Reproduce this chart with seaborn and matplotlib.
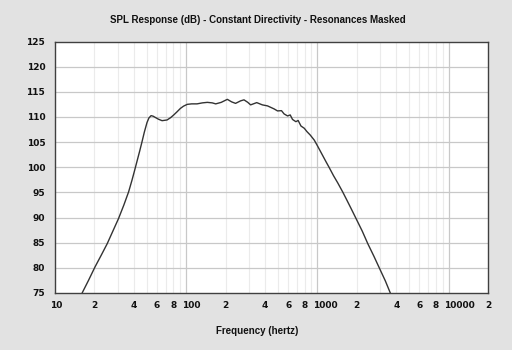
import matplotlib
matplotlib.use("Agg")
import matplotlib.pyplot as plt
import matplotlib.transforms as mtransforms
import seaborn as sns
import pandas as pd

freq_hz = [16.1, 18.0, 20.2, 22.5, 25.0, 27.5, 30.5, 33.5, 36.4, 38.6, 40.2, 42.2, 44.2, 46.0,
           48.0, 50.3, 52.0, 54.0, 56.0, 58.2, 61.5, 65.5, 71.5, 76.0, 80.4, 85.0, 90.4,
           95.5, 101.8, 110, 121, 133, 145, 158, 168, 185, 206, 222, 238, 260, 276, 295,
           310, 345, 381, 417, 468, 497, 533, 558, 593, 621, 647, 686, 714, 750, 795, 832,
           883, 947, 1005, 1079, 1164, 1234, 1330, 1430, 1560, 1654, 1800, 1973, 2200,
           2425, 2700, 2978, 3300, 3600]
spl_db = [75.0, 77.5, 80.2, 82.5, 84.8, 87.2, 89.8, 92.5, 95.1, 97.4, 99.1, 101.2, 103.2,
          105.0, 107.0, 108.9, 109.8, 110.26, 110.15, 109.9, 109.55, 109.26, 109.4, 109.85,
          110.4, 111.0, 111.7, 112.15, 112.5, 112.6, 112.6, 112.8, 112.9, 112.8, 112.6, 112.9,
          113.5, 113.0, 112.7, 113.2, 113.4, 112.9, 112.4, 112.85, 112.4, 112.2, 111.6, 111.2,
          111.25, 110.6, 110.2, 110.4, 109.5, 109.06, 109.3, 108.2, 107.75, 107.1, 106.4,
          105.4, 104.2, 102.7, 101.1, 99.9, 98.3, 96.9, 95.1, 93.8, 91.9, 89.8, 87.3, 84.8,
          82.3, 79.9, 77.4, 75.0]

y_ticks = [75, 80, 85, 90, 95, 100, 105, 110, 115, 120, 125]
x_tick_pos = [10, 20, 40, 60, 80, 100, 200, 400, 600, 800, 1000, 2000, 4000, 6000, 8000, 10000, 20000]
x_tick_lab = ["10", "2", "4", "6", "8", "100", "2", "4", "6", "8", "1000", "2", "4", "6", "8", "10000", "2"]

df = pd.DataFrame({"freq": freq_hz, "spl": spl_db})

sns.set_theme(style="white")
plt.rcParams['font.family'] = ['Liberation Sans', 'DejaVu Sans']

bg = "#e2e2e2"
fig = plt.figure(figsize=(5.12, 3.5), dpi=100, facecolor=bg)
ax = fig.add_axes([55/512, 1 - 293/350, (488-55)/512, (293-41.5)/350])
ax.set_facecolor("white")

# grid
for dec in [10, 100, 1000, 10000]:
    for m in range(2, 10):
        v = dec * m
        if v < 20000:
            ax.axvline(v, color="#ebebeb", lw=0.8, zorder=0)
for dec in [100, 1000, 10000]:
    ax.axvline(dec, color="#c8c8c8", lw=0.9, zorder=0)
for yv in y_ticks[1:-1]:
    ax.axhline(yv, color="#c8c8c8", lw=0.9, zorder=0)

sns.lineplot(data=df, x="freq", y="spl", ax=ax, color="#333333", lw=1.0, sort=False, zorder=3)

ax.set_xscale("log")
ax.set_xlim(10, 20000)
ax.set_ylim(75, 125)
ax.set_xticks(x_tick_pos)
ax.set_xticklabels([])
ax.xaxis.set_minor_locator(matplotlib.ticker.NullLocator())
ax.set_yticks(y_ticks)
ax.set_yticklabels([str(v) for v in y_ticks])
ax.tick_params(axis="both", length=0, colors="#111111")
ax.tick_params(axis="y", pad=7, labelsize=6.5)
for lab in ax.get_yticklabels():
    lab.set_fontweight("bold")
    lab.set_family("DejaVu Sans")

# x tick labels: first digit centred on its gridline
tick_font = dict(fontsize=6.5, fontweight="bold", family="DejaVu Sans", color="#111111")
xt = ax.get_xaxis_transform()
for pos, lab in zip(x_tick_pos, x_tick_lab):
    if len(lab) > 1:
        off = mtransforms.ScaledTranslation(-4.5/100, -12/100, fig.dpi_scale_trans)
        ax.text(pos, 0, lab, transform=xt + off, ha="left", va="center", **tick_font)
    else:
        off = mtransforms.ScaledTranslation(0, -12/100, fig.dpi_scale_trans)
        ax.text(pos, 0, lab, transform=xt + off, ha="center", va="center", **tick_font)

for s in ax.spines.values():
    s.set_color("#404040")
    s.set_linewidth(1.0)

ax.set_xlabel("")
ax.set_ylabel("")
fig.text(257.5/512, 1 - 20/350, "SPL Response (dB) - Constant Directivity - Resonances Masked",
         ha="center", va="center", fontsize=7, fontweight="bold", color="#111111")
fig.text(257.5/512, 1 - 331.5/350, "Frequency (hertz)",
         ha="center", va="center", fontsize=7, fontweight="bold", color="#111111")

fig.savefig("out.png", dpi=100, facecolor=bg)
